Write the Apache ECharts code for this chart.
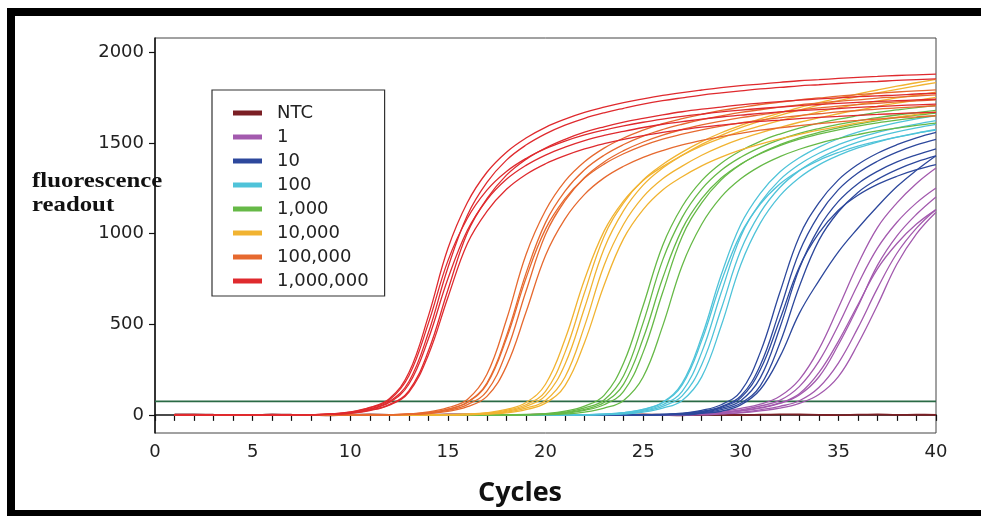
<!DOCTYPE html>
<html>
<head>
<meta charset="utf-8">
<script src="https://cdn.jsdelivr.net/npm/echarts@6/dist/echarts.min.js"></script>
<style>
html,body{margin:0;padding:0;background:#fff;}
#c{width:981px;height:516px;}
</style>
</head>
<body>
<div id="c"></div>
<script>
// ---- data ----
const cycles = [1,2,3,4,5,6,7,8,9,10,11,12,13,14,15,16,17,18,19,20,21,22,23,24,25,26,27,28,29,30,31,32,33,34,35,36,37,38,39,40];
const legendNames = ['NTC','1','10','100','1,000','10,000','100,000','1,000,000'];
const xTicks = [0,5,10,15,20,25,30,35,40];
const yTicks = [0,500,1000,1500,2000];
const threshold = 75;

const ntc = [2,3,1,0,-1,2,1,0,-2,1, 2,0,-1,1,3,2,0,-1,0,2, 1,-1,0,1,2,0,-2,1,0,-1, 1,3,2,0,-1,1,2,0,1,0];

const red = [
 [0,0,0,0,0,0,0, 1,5,16,41,89,232,545,918,1172,1339,1450,1528,1587,1632,1669,1698,1723,1744,1763,1779,1793,1806,1817,1826,1835,1844,1850,1857,1863,1868,1873,1877,1881],
 [0,0,0,0,0,0,0, 1,4,13,33,73,183,453,812,1102,1283,1406,1489,1551,1599,1637,1667,1692,1715,1734,1750,1765,1777,1788,1799,1807,1816,1822,1829,1835,1840,1846,1850,1854],
 [0,0,0,0,0,0,0, 1,5,15,38,82,215,505,850,1085,1240,1343,1415,1469,1511,1545,1572,1595,1615,1632,1647,1660,1672,1682,1691,1699,1707,1713,1719,1725,1730,1734,1738,1742],
 [0,0,0,0,0,0,0,0, 3,9,26,57,133,352,689,1005,1193,1323,1410,1473,1521,1560,1590,1616,1637,1656,1673,1687,1699,1711,1721,1729,1737,1744,1750,1756,1761,1765,1771,1775],
 [0,0,0,0,0,0,0, 1,4,12,31,68,169,419,751,1019,1187,1300,1377,1434,1478,1514,1542,1565,1586,1604,1618,1632,1644,1654,1664,1672,1679,1685,1691,1697,1702,1707,1711,1715],
 [0,0,0,0,0,0,0,0, 3,9,24,54,125,331,648,946,1123,1245,1327,1386,1431,1468,1497,1521,1541,1559,1574,1588,1599,1610,1620,1627,1635,1642,1647,1653,1658,1663,1667,1670]
];
const orange = [
 [0,0,0,0,0,0,0,0,0,0,0, 1,5,16,40,85,224,525,884,1128,1290,1397,1472,1528,1571,1607,1635,1659,1680,1697,1713,1726,1739,1749,1759,1767,1775,1782,1788,1794],
 [0,0,0,0,0,0,0,0,0,0,0, 1,4,12,32,71,176,436,781,1061,1235,1353,1433,1492,1539,1575,1604,1629,1650,1669,1684,1698,1711,1721,1731,1739,1748,1754,1760,1766],
 [0,0,0,0,0,0,0,0,0,0,0,0, 3,9,25,57,131,348,682,995,1182,1310,1396,1458,1506,1544,1575,1600,1621,1640,1656,1671,1683,1694,1704,1712,1720,1727,1733,1739],
 [0,0,0,0,0,0,0,0,0,0,0, 1,4,12,31,68,170,421,754,1025,1193,1307,1384,1441,1486,1522,1549,1573,1594,1612,1627,1640,1652,1662,1672,1680,1688,1694,1700,1706],
 [0,0,0,0,0,0,0,0,0,0,0,0, 2,7,19,45,102,269,566,880,1082,1217,1308,1372,1421,1459,1490,1515,1536,1554,1571,1584,1596,1607,1617,1625,1633,1640,1645,1651]
];
const yellow = [
 [0,0,0,0,0,0,0,0,0,0,0,0,0,0,0, 3,9,25,56,130,345,675,985,1170,1297,1382,1450,1508,1557,1598,1634,1666,1696,1723,1748,1771,1793,1814,1833,1852],
 [0,0,0,0,0,0,0,0,0,0,0,0,0,0,0, 2,7,20,47,106,280,590,917,1127,1268,1362,1432,1493,1543,1585,1621,1653,1682,1709,1733,1756,1777,1797,1816,1834],
 [0,0,0,0,0,0,0,0,0,0,0,0,0,0, 1,4,12,30,68,169,417,747,1014,1181,1294,1370,1433,1485,1528,1564,1595,1624,1649,1672,1694,1714,1731,1749,1765,1781],
 [0,0,0,0,0,0,0,0,0,0,0,0,0,0,0, 1,5,15,37,80,209,490,825,1052,1203,1303,1373,1433,1482,1523,1557,1587,1615,1639,1662,1682,1702,1720,1736,1752],
 [0,0,0,0,0,0,0,0,0,0,0,0,0,0,0, 1,4,11,29,65,162,400,716,973,1133,1241,1314,1374,1422,1462,1494,1523,1548,1571,1591,1611,1628,1643,1659,1672]
];
const green = [
 [0,0,0,0,0,0,0,0,0,0,0,0,0,0,0,0,0,0, 2,7,20,48,108,286,602,935,1150,1293,1389,1458,1510,1550,1583,1610,1632,1651,1669,1683,1696,1707],
 [0,0,0,0,0,0,0,0,0,0,0,0,0,0,0,0,0,0, 1,5,15,38,82,216,508,854,1090,1246,1350,1422,1476,1519,1553,1580,1603,1623,1640,1655,1668,1680],
 [0,0,0,0,0,0,0,0,0,0,0,0,0,0,0,0,0,0, 1,4,12,31,68,170,421,754,1025,1193,1307,1384,1441,1486,1522,1549,1573,1594,1612,1627,1640,1652],
 [0,0,0,0,0,0,0,0,0,0,0,0,0,0,0,0,0,0,0, 3,9,25,56,130,345,675,985,1170,1297,1382,1444,1491,1529,1559,1584,1605,1624,1640,1654,1666],
 [0,0,0,0,0,0,0,0,0,0,0,0,0,0,0,0,0,0,0, 1,5,15,37,80,209,490,825,1052,1203,1303,1373,1425,1466,1499,1525,1547,1567,1583,1598,1610]
];
const cyan = [
 [0,0,0,0,0,0,0,0,0,0,0,0,0,0,0,0,0,0,0,0,0, 1,4,12,31,70,175,431,773,1051,1223,1340,1419,1478,1524,1560,1588,1613,1634,1652],
 [0,0,0,0,0,0,0,0,0,0,0,0,0,0,0,0,0,0,0,0,0,0, 3,9,25,56,130,345,675,985,1170,1297,1382,1444,1491,1529,1559,1584,1605,1624],
 [0,0,0,0,0,0,0,0,0,0,0,0,0,0,0,0,0,0,0,0,0,0, 2,7,20,47,105,277,584,908,1116,1255,1348,1415,1465,1505,1536,1562,1584,1603],
 [0,0,0,0,0,0,0,0,0,0,0,0,0,0,0,0,0,0,0,0,0,0, 1,5,15,37,80,210,492,829,1058,1209,1309,1380,1432,1473,1506,1533,1555,1575],
 [0,0,0,0,0,0,0,0,0,0,0,0,0,0,0,0,0,0,0,0,0, 1,4,12,30,67,166,410,735,999,1163,1274,1349,1405,1448,1483,1510,1533,1554,1571]
];
const blue = [
 [0,0,0,0,0,0,0,0,0,0,0,0,0,0,0,0,0,0,0,0,0,0,0,0,0, 3,9,25,56,130,345,675,985,1170,1297,1382,1444,1491,1529,1559],
 [0,0,0,0,0,0,0,0,0,0,0,0,0,0,0,0,0,0,0,0,0,0,0,0,0, 2,7,20,46,104,274,578,899,1104,1243,1335,1400,1450,1490,1521],
 [0,0,0,0,0,0,0,0,0,0,0,0,0,0,0,0,0,0,0,0,0,0,0,0,0, 1,5,14,36,78,204,480,808,1031,1178,1276,1344,1396,1435,1468],
 [0,0,0,0,0,0,0,0,0,0,0,0,0,0,0,0,0,0,0,0,0,0,0,0,0, 1,4,11,29,64,160,395,709,963,1121,1228,1300,1354,1396,1429],
 [0,0,0,0,0,0,0,0,0,0,0,0,0,0,0,0,0,0,0,0,0,0,0,0,0, 2,6,18,42,94,249,525,816,1003,1129,1212,1272,1317,1353,1381],
 [0,0,0,0,0,0,0,0,0,0,0,0,0,0,0,0,0,0,0,0,0,0,0,0,0,0,0, 8,20,55,140,320,560,740,900,1030,1150,1260,1350,1430]
];
const purple = [
 [0,0,0,0,0,0,0,0,0,0,0,0,0,0,0,0,0,0,0,0,0,0,0,0,0,0, 4,9,19,36,59,103,195,362,591,831,1034,1170,1277,1362],
 [0,0,0,0,0,0,0,0,0,0,0,0,0,0,0,0,0,0,0,0,0,0,0,0,0,0, 4,7,15,28,49,80,156,295,495,720,920,1063,1170,1252],
 [0,0,0,0,0,0,0,0,0,0,0,0,0,0,0,0,0,0,0,0,0,0,0,0,0,0,0, 5,11,21,37,63,110,209,387,598,825,988,1107,1203],
 [0,0,0,0,0,0,0,0,0,0,0,0,0,0,0,0,0,0,0,0,0,0,0,0,0,0,0, 4,7,14,28,47,78,151,286,480,698,892,1031,1134],
 [0,0,0,0,0,0,0,0,0,0,0,0,0,0,0,0,0,0,0,0,0,0,0,0,0,0,0, 6,12,23,40,66,117,233,406,608,806,946,1053,1133],
 [0,0,0,0,0,0,0,0,0,0,0,0,0,0,0,0,0,0,0,0,0,0,0,0,0,0,0,0, 5,11,22,37,64,112,211,391,605,833,999,1118]
];

// ---- styling ----
const groupDefs = [
  {name:'1',         color:'#a35aae', reps: purple},
  {name:'10',        color:'#2d489c', reps: blue},
  {name:'100',       color:'#4fc3d9', reps: cyan},
  {name:'1,000',     color:'#66b947', reps: green},
  {name:'10,000',    color:'#f1b331', reps: yellow},
  {name:'100,000',   color:'#e6692f', reps: orange},
  {name:'1,000,000', color:'#df2a2e', reps: red}
];

function toPts(arr){
  const a = arr.length > cycles.length ? arr.slice(arr.length - cycles.length) : arr;
  const off = cycles.length - a.length;
  return a.map((v,i)=>[cycles[off+i], v]);
}

const series = [];
series.push({
  type:'line', name:'threshold', silent:true, showSymbol:false,
  data:[[xTicks[0], threshold],[xTicks[xTicks.length-1], threshold]],
  lineStyle:{color:'#2a6a45', width:1.8}, itemStyle:{color:'#2a6a45'}, z:2
});
series.push({
  type:'line', name:'NTC', silent:true, showSymbol:false, smooth:0.3,
  data: toPts(ntc),
  lineStyle:{color:'#7b1f24', width:1.8}, itemStyle:{color:'#7b1f24'}, z:3
});
groupDefs.forEach(g=>{
  g.reps.forEach(r=>{
    series.push({
      type:'line', name:g.name, silent:true, showSymbol:false,
      smooth:0.4,
      data: toPts(r),
      lineStyle:{color:g.color, width:1.3}, itemStyle:{color:g.color}, z:3
    });
  });
});

const chart = echarts.init(document.getElementById('c'), null, {renderer:'canvas'});
chart.setOption({
  animation:false,
  backgroundColor:'#ffffff',
  grid:{left:155, top:38, right:45, bottom:83, show:true, borderColor:'#444', borderWidth:1, backgroundColor:'transparent'},
  legend:{
    data: legendNames,
    orient:'vertical', left:212, top:90,
    padding:[14,16,6,21], itemGap:6,
    itemWidth:29, itemHeight:5, icon:'rect',
    borderColor:'#333', borderWidth:1.2, backgroundColor:'#fff',
    selectedMode:false,
    textStyle:{fontFamily:'DejaVu Sans', fontSize:18, color:'#222', padding:[0,0,0,10]}
  },
  xAxis:{
    type:'value', min:0, max:40, interval:5,
    axisLine:{show:true, lineStyle:{color:'#111', width:1.5}},
    axisTick:{show:true, length:6, inside:false, lineStyle:{color:'#111', width:1.2}},
    minorTick:{show:true, splitNumber:5, length:6, lineStyle:{color:'#111', width:1.2}},
    axisLabel:{fontFamily:'DejaVu Sans', fontSize:18, color:'#222', margin:10, formatter:v=>String(v)},
    splitLine:{show:false}, minorSplitLine:{show:false}
  },
  yAxis:{
    type:'value', min:-100, max:2080,
    axisLine:{show:true, lineStyle:{color:'#111', width:1.5}},
    axisTick:{show:true, length:6, inside:false, customValues:yTicks, lineStyle:{color:'#111', width:1.2}},
    axisLabel:{fontFamily:'DejaVu Sans', fontSize:18, color:'#222', margin:11, customValues:yTicks,
      formatter:v=> (yTicks.indexOf(v)>=0 ? String(v) : '')},
    splitLine:{show:false}
  },
  graphic:[
    {type:'rect', shape:{x:7,y:8,width:974,height:8}, style:{fill:'#000'}, silent:true},
    {type:'rect', shape:{x:7,y:8,width:8,height:508}, style:{fill:'#000'}, silent:true},
    {type:'rect', shape:{x:7,y:510,width:974,height:6}, style:{fill:'#000'}, silent:true},
    {type:'text', x:32, y:170, scaleX:1.18, silent:true, z:10,
      style:{text:'fluorescence\nreadout', font:'bold 21px "Liberation Serif"', fill:'#111', lineHeight:24, verticalAlign:'top', align:'left'}},
    {type:'text', x:520, y:493, silent:true,
      style:{text:'Cycles', font:'bold 27px "Open Sans"', fill:'#111', align:'center', verticalAlign:'middle'}}
  ],
  series: series
});
</script>
</body>
</html>
